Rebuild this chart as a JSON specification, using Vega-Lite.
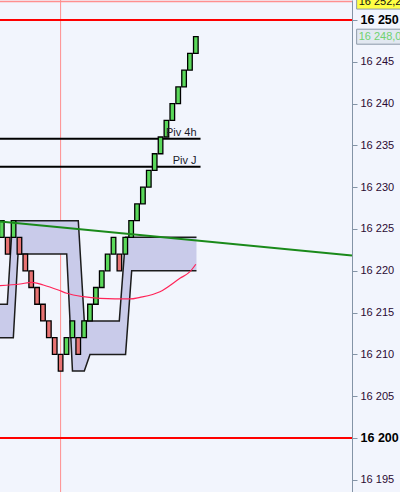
{
  "$schema": "https://vega.github.io/schema/vega-lite/v6.json",
  "width": 352,
  "height": 492,
  "autosize": {"type": "none"},
  "padding": {"left": 0, "top": 0, "right": 48, "bottom": 0},
  "background": "#f2f5fd",
  "config": {"view": {"stroke": null}, "font": "Liberation Sans", "scale": {"continuousPadding": 0}},
  "datasets": {
    "bricks": [
      {"i": 0, "lo": 16224, "hi": 16226, "dir": "up"},
      {"i": 1, "lo": 16222, "hi": 16224, "dir": "down"},
      {"i": 2, "lo": 16224, "hi": 16226, "dir": "up"},
      {"i": 3, "lo": 16222, "hi": 16224, "dir": "down"},
      {"i": 4, "lo": 16220, "hi": 16222, "dir": "down"},
      {"i": 5, "lo": 16218, "hi": 16220, "dir": "down"},
      {"i": 6, "lo": 16216, "hi": 16218, "dir": "down"},
      {"i": 7, "lo": 16214, "hi": 16216, "dir": "down"},
      {"i": 8, "lo": 16212, "hi": 16214, "dir": "down"},
      {"i": 9, "lo": 16210, "hi": 16212, "dir": "down"},
      {"i": 10, "lo": 16208, "hi": 16210, "dir": "down"},
      {"i": 11, "lo": 16210, "hi": 16212, "dir": "up"},
      {"i": 12, "lo": 16212, "hi": 16214, "dir": "up"},
      {"i": 13, "lo": 16210, "hi": 16212, "dir": "down"},
      {"i": 14, "lo": 16212, "hi": 16214, "dir": "up"},
      {"i": 15, "lo": 16214, "hi": 16216, "dir": "up"},
      {"i": 16, "lo": 16216, "hi": 16218, "dir": "up"},
      {"i": 17, "lo": 16218, "hi": 16220, "dir": "up"},
      {"i": 18, "lo": 16220, "hi": 16222, "dir": "up"},
      {"i": 19, "lo": 16222, "hi": 16224, "dir": "up"},
      {"i": 20, "lo": 16220, "hi": 16222, "dir": "down"},
      {"i": 21, "lo": 16222, "hi": 16224, "dir": "up"},
      {"i": 22, "lo": 16224, "hi": 16226, "dir": "up"},
      {"i": 23, "lo": 16226, "hi": 16228, "dir": "up"},
      {"i": 24, "lo": 16228, "hi": 16230, "dir": "up"},
      {"i": 25, "lo": 16230, "hi": 16232, "dir": "up"},
      {"i": 26, "lo": 16232, "hi": 16234, "dir": "up"},
      {"i": 27, "lo": 16234, "hi": 16236, "dir": "up"},
      {"i": 28, "lo": 16236, "hi": 16238, "dir": "up"},
      {"i": 29, "lo": 16238, "hi": 16240, "dir": "up"},
      {"i": 30, "lo": 16240, "hi": 16242, "dir": "up"},
      {"i": 31, "lo": 16242, "hi": 16244, "dir": "up"},
      {"i": 32, "lo": 16244, "hi": 16246, "dir": "up"},
      {"i": 33, "lo": 16246, "hi": 16248, "dir": "up"}
    ],
    "cloud": [
      {"i": -0.5, "top": 16216, "bot": 16212},
      {"i": 0.94, "top": 16216, "bot": 16212},
      {"i": 1.82, "top": 16226, "bot": 16212},
      {"i": 1.96, "top": 16226, "bot": 16212},
      {"i": 2.76, "top": 16226, "bot": 16222},
      {"i": 11.04, "top": 16226, "bot": 16222},
      {"i": 12.02, "top": 16226, "bot": 16208},
      {"i": 13.01, "top": 16226, "bot": 16208},
      {"i": 14.03, "top": 16214, "bot": 16208},
      {"i": 15.0, "top": 16214, "bot": 16210},
      {"i": 19.98, "top": 16214, "bot": 16210},
      {"i": 21.05, "top": 16224, "bot": 16210},
      {"i": 22.09, "top": 16224, "bot": 16220},
      {"i": 33.11, "top": 16224, "bot": 16220}
    ],
    "ma": [
      {"i": -0.31, "price": 16218.22},
      {"i": 3.1, "price": 16218.42},
      {"i": 5.09, "price": 16218.62},
      {"i": 7.06, "price": 16218.3},
      {"i": 9.61, "price": 16217.7},
      {"i": 11.04, "price": 16217.31},
      {"i": 13.86, "price": 16216.9},
      {"i": 16.7, "price": 16216.71},
      {"i": 21.8, "price": 16216.63},
      {"i": 23.5, "price": 16216.83},
      {"i": 26.9, "price": 16217.5},
      {"i": 30.3, "price": 16219.1},
      {"i": 32.0, "price": 16219.89},
      {"i": 33.0, "price": 16220.78}
    ],
    "trend": [
      {"i": -0.31, "price": 16225.9},
      {"i": 59.56, "price": 16221.84}
    ],
    "pivots": [
      {"x0": -1, "x1": 33.8, "price": 16235.8, "label": "Piv 4h"},
      {"x0": -1, "x1": 33.8, "price": 16232.45, "label": "Piv J"}
    ],
    "levels": [
      {"price": 16250, "kind": "major"},
      {"price": 16200, "kind": "major"},
      {"price": 16252.2, "kind": "last"}
    ],
    "marker": [{"i": 10}],
    "tags": [
      {"price": 16252.2, "text": "16 252,2", "kind": "last"},
      {"price": 16248.0, "text": "16 248,0", "kind": "close"}
    ]
  },
  "layer": [
    {
      "data": {"name": "levels"},
      "transform": [{"filter": "datum.kind == 'last'"}],
      "mark": {"type": "rule", "color": "#ff8f8f", "strokeWidth": 1.5},
      "encoding": {
        "y": {"field": "price", "type": "quantitative", "title": null,
          "scale": {"domain": [16193.54, 16252.39], "nice": false, "zero": false, "padding": 0},
          "axis": {
            "orient": "right", "title": null, "grid": false,
            "values": [16195, 16200, 16205, 16210, 16215, 16220, 16225, 16230, 16235, 16240, 16245, 16250],
            "labelExpr": "replace(format(datum.value, ','), ',', ' ')",
            "domainColor": "#8494a6", "domainWidth": 1,
            "tickColor": "#8494a6", "tickSize": 5,
            "labelPadding": 3, "labelFont": "Liberation Sans",
            "labelFontSize": {"condition": {"test": "datum.value == 16250 || datum.value == 16200", "value": 12.5}, "value": 11},
            "labelFontWeight": {"condition": {"test": "datum.value == 16250 || datum.value == 16200", "value": "bold"}, "value": "normal"},
            "labelColor": {"condition": {"test": "datum.value == 16250 || datum.value == 16200", "value": "#000000"}, "value": "#2a0a33"}
          }
        }
      }
    },
    {
      "data": {"name": "marker"},
      "mark": {"type": "rule", "color": "#ff8f8f", "strokeWidth": 1},
      "encoding": {
        "x": {"field": "i", "type": "quantitative", "scale": {"domain": [-0.306, 59.56], "nice": false, "zero": false, "padding": 0}, "axis": null}
      }
    },
    {
      "data": {"name": "cloud"},
      "mark": {"type": "area", "color": "#c9cbea", "opacity": 1, "clip": true},
      "encoding": {
        "x": {"field": "i", "type": "quantitative", "scale": {"domain": [-0.306, 59.56], "nice": false, "zero": false, "padding": 0}, "axis": null},
        "y": {"field": "top", "type": "quantitative", "title": null, "scale": {"domain": [16193.54, 16252.39], "nice": false, "zero": false, "padding": 0}},
        "y2": {"field": "bot"}
      }
    },
    {
      "data": {"name": "cloud"},
      "mark": {"type": "line", "color": "#1c1c1c", "strokeWidth": 1.5, "clip": true},
      "encoding": {
        "x": {"field": "i", "type": "quantitative", "scale": {"domain": [-0.306, 59.56], "nice": false, "zero": false, "padding": 0}, "axis": null},
        "y": {"field": "top", "type": "quantitative", "title": null, "scale": {"domain": [16193.54, 16252.39], "nice": false, "zero": false, "padding": 0}}
      }
    },
    {
      "data": {"name": "cloud"},
      "mark": {"type": "line", "color": "#1c1c1c", "strokeWidth": 1.5, "clip": true},
      "encoding": {
        "x": {"field": "i", "type": "quantitative", "scale": {"domain": [-0.306, 59.56], "nice": false, "zero": false, "padding": 0}, "axis": null},
        "y": {"field": "bot", "type": "quantitative", "title": null, "scale": {"domain": [16193.54, 16252.39], "nice": false, "zero": false, "padding": 0}}
      }
    },
    {
      "data": {"name": "pivots"},
      "mark": {"type": "rule", "color": "#000000", "strokeWidth": 2, "clip": true},
      "encoding": {
        "x": {"field": "x0", "type": "quantitative", "scale": {"domain": [-0.306, 59.56], "nice": false, "zero": false, "padding": 0}, "axis": null},
        "x2": {"field": "x1"},
        "y": {"field": "price", "type": "quantitative", "title": null, "scale": {"domain": [16193.54, 16252.39], "nice": false, "zero": false, "padding": 0}}
      }
    },
    {
      "data": {"name": "bricks"},
      "transform": [{"filter": "datum.dir == 'up'"}],
      "mark": {"type": "bar", "width": 4.6, "fill": "#5ad85a", "stroke": "#000000", "strokeWidth": 1.3, "clip": true},
      "encoding": {
        "x": {"field": "i", "type": "quantitative", "scale": {"domain": [-0.306, 59.56], "nice": false, "zero": false, "padding": 0}, "axis": null},
        "y": {"field": "lo", "type": "quantitative", "title": null, "scale": {"domain": [16193.54, 16252.39], "nice": false, "zero": false, "padding": 0}},
        "y2": {"field": "hi"}
      }
    },
    {
      "data": {"name": "bricks"},
      "transform": [{"filter": "datum.dir == 'down'"}],
      "mark": {"type": "bar", "width": 4.6, "fill": "#e87373", "stroke": "#000000", "strokeWidth": 1.3, "clip": true},
      "encoding": {
        "x": {"field": "i", "type": "quantitative", "scale": {"domain": [-0.306, 59.56], "nice": false, "zero": false, "padding": 0}, "axis": null},
        "y": {"field": "lo", "type": "quantitative", "title": null, "scale": {"domain": [16193.54, 16252.39], "nice": false, "zero": false, "padding": 0}},
        "y2": {"field": "hi"}
      }
    },
    {
      "data": {"name": "pivots"},
      "mark": {"type": "text", "align": "right", "baseline": "bottom", "dx": -4, "dy": -1, "fontSize": 11, "color": "#1a1a2a", "font": "Liberation Sans"},
      "encoding": {
        "x": {"field": "x1", "type": "quantitative", "scale": {"domain": [-0.306, 59.56], "nice": false, "zero": false, "padding": 0}, "axis": null},
        "y": {"field": "price", "type": "quantitative", "title": null, "scale": {"domain": [16193.54, 16252.39], "nice": false, "zero": false, "padding": 0}},
        "text": {"field": "label"}
      }
    },
    {
      "data": {"name": "ma"},
      "mark": {"type": "line", "color": "#ff2458", "strokeWidth": 1.2, "interpolate": "monotone", "clip": true},
      "encoding": {
        "x": {"field": "i", "type": "quantitative", "scale": {"domain": [-0.306, 59.56], "nice": false, "zero": false, "padding": 0}, "axis": null},
        "y": {"field": "price", "type": "quantitative", "title": null, "scale": {"domain": [16193.54, 16252.39], "nice": false, "zero": false, "padding": 0}}
      }
    },
    {
      "data": {"name": "trend"},
      "mark": {"type": "line", "color": "#1a8a1a", "strokeWidth": 2, "clip": true},
      "encoding": {
        "x": {"field": "i", "type": "quantitative", "scale": {"domain": [-0.306, 59.56], "nice": false, "zero": false, "padding": 0}, "axis": null},
        "y": {"field": "price", "type": "quantitative", "title": null, "scale": {"domain": [16193.54, 16252.39], "nice": false, "zero": false, "padding": 0}}
      }
    },
    {
      "data": {"name": "levels"},
      "transform": [{"filter": "datum.kind == 'major'"}],
      "mark": {"type": "rule", "color": "#ff0000", "strokeWidth": 2},
      "encoding": {
        "y": {"field": "price", "type": "quantitative", "title": null, "scale": {"domain": [16193.54, 16252.39], "nice": false, "zero": false, "padding": 0}}
      }
    },
    {
      "data": {"name": "tags"},
      "transform": [{"filter": "datum.kind == 'last'"}],
      "mark": {"type": "bar", "size": 15, "fill": "#ffff44", "stroke": "#8c99a8", "strokeWidth": 1},
      "encoding": {
        "x": {"datum": 60.35, "type": "quantitative", "scale": {"domain": [-0.306, 59.56], "nice": false, "zero": false, "padding": 0}, "axis": null},
        "x2": {"datum": 70},
        "y": {"field": "price", "type": "quantitative", "title": null, "scale": {"domain": [16193.54, 16252.39], "nice": false, "zero": false, "padding": 0}}
      }
    },
    {
      "data": {"name": "tags"},
      "transform": [{"filter": "datum.kind == 'close'"}],
      "mark": {"type": "bar", "size": 15, "fill": "#e2e8f1", "stroke": "#8c99a8", "strokeWidth": 1},
      "encoding": {
        "x": {"datum": 60.35, "type": "quantitative", "scale": {"domain": [-0.306, 59.56], "nice": false, "zero": false, "padding": 0}, "axis": null},
        "x2": {"datum": 70},
        "y": {"field": "price", "type": "quantitative", "title": null, "scale": {"domain": [16193.54, 16252.39], "nice": false, "zero": false, "padding": 0}}
      }
    },
    {
      "data": {"name": "tags"},
      "transform": [{"filter": "datum.kind == 'last'"}],
      "mark": {"type": "text", "align": "left", "baseline": "middle", "dx": 2, "fontSize": 11, "font": "Liberation Sans", "color": "#111111"},
      "encoding": {
        "x": {"datum": 60.35, "type": "quantitative", "scale": {"domain": [-0.306, 59.56], "nice": false, "zero": false, "padding": 0}, "axis": null},
        "y": {"field": "price", "type": "quantitative", "title": null, "scale": {"domain": [16193.54, 16252.39], "nice": false, "zero": false, "padding": 0}},
        "text": {"field": "text"}
      }
    },
    {
      "data": {"name": "tags"},
      "transform": [{"filter": "datum.kind == 'close'"}],
      "mark": {"type": "text", "align": "left", "baseline": "middle", "dx": 2, "fontSize": 11, "font": "Liberation Sans", "color": "#6fd26f"},
      "encoding": {
        "x": {"datum": 60.35, "type": "quantitative", "scale": {"domain": [-0.306, 59.56], "nice": false, "zero": false, "padding": 0}, "axis": null},
        "y": {"field": "price", "type": "quantitative", "title": null, "scale": {"domain": [16193.54, 16252.39], "nice": false, "zero": false, "padding": 0}},
        "text": {"field": "text"}
      }
    }
  ]
}
